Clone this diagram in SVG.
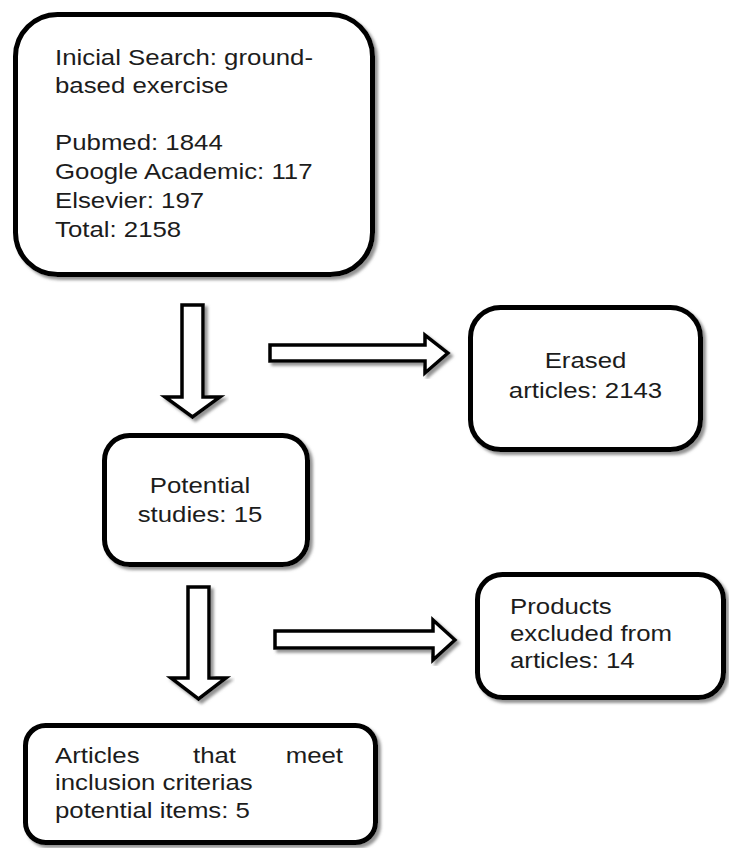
<svg xmlns="http://www.w3.org/2000/svg" width="729" height="848" viewBox="0 0 729 848">
<defs>
<filter id="sh" x="-10%" y="-10%" width="125%" height="125%">
<feDropShadow dx="3" dy="3" stdDeviation="1.8" flood-color="#777" flood-opacity="0.8"/>
</filter>
</defs>
<style>
.box{fill:#fff;stroke:#000;stroke-width:5;filter:url(#sh)}
.arr{fill:#fff;stroke:#000;stroke-width:3.5;stroke-linejoin:miter;filter:url(#sh)}
text{font-family:"Liberation Sans",Arial,sans-serif;font-size:21.5px;fill:#1c1c1c}
.c{text-anchor:middle}
</style>
<rect width="729" height="848" fill="#fff"/>
<g id="connectors">
<polygon class="arr" points="182,305 203,305 203,397 220,397 192.5,417 165,397 182,397"/>
<polygon class="arr" points="270,345 425,345 425,335 448,353 425,373 425,361 270,361"/>
<polygon class="arr" points="188,587 209,587 209,678 226,678 198.5,699 171,678 188,678"/>
<polygon class="arr" points="275,631 433,631 433,620 455,640 433,660 433,648 275,648"/>
</g>
<g id="search">
<rect class="box" x="15.5" y="14.5" width="357" height="260" rx="42"/>
<g transform="translate(55,0) scale(1.2,1)">
<text x="0" y="65">Inicial Search: ground-</text>
<text x="0" y="93">based exercise</text>
<text x="0" y="150">Pubmed: 1844</text>
<text x="0" y="179">Google Academic: 117</text>
<text x="0" y="208">Elsevier: 197</text>
<text x="0" y="237">Total: 2158</text>
</g>
</g>
<g id="erased">
<rect class="box" x="470.5" y="307.5" width="230" height="142" rx="30"/>
<g transform="translate(585.5,0) scale(1.2,1)">
<text class="c" x="0" y="368">Erased</text>
<text class="c" x="0" y="398">articles: 2143</text>
</g>
</g>
<g id="potential">
<rect class="box" x="104.5" y="435.5" width="203" height="129" rx="25"/>
<g transform="translate(200,0) scale(1.2,1)">
<text class="c" x="0" y="493">Potential</text>
<text class="c" x="0" y="522">studies: 15</text>
</g>
</g>
<g id="products">
<rect class="box" x="477.5" y="574.5" width="246" height="123" rx="25"/>
<g transform="translate(510,0) scale(1.2,1)">
<text x="0" y="614">Products</text>
<text x="0" y="641">excluded from</text>
<text x="0" y="668">articles: 14</text>
</g>
</g>
<g id="articles">
<rect class="box" x="25.5" y="725.5" width="350" height="117" rx="20"/>
<g transform="translate(55,0) scale(1.2,1)">
<text x="0" y="763">Articles</text>
<text x="115" y="763">that</text>
<text x="240" y="763" style="text-anchor:end">meet</text>
<text x="0" y="790">inclusion criterias</text>
<text x="0" y="818">potential items: 5</text>
</g>
</g>
</svg>
